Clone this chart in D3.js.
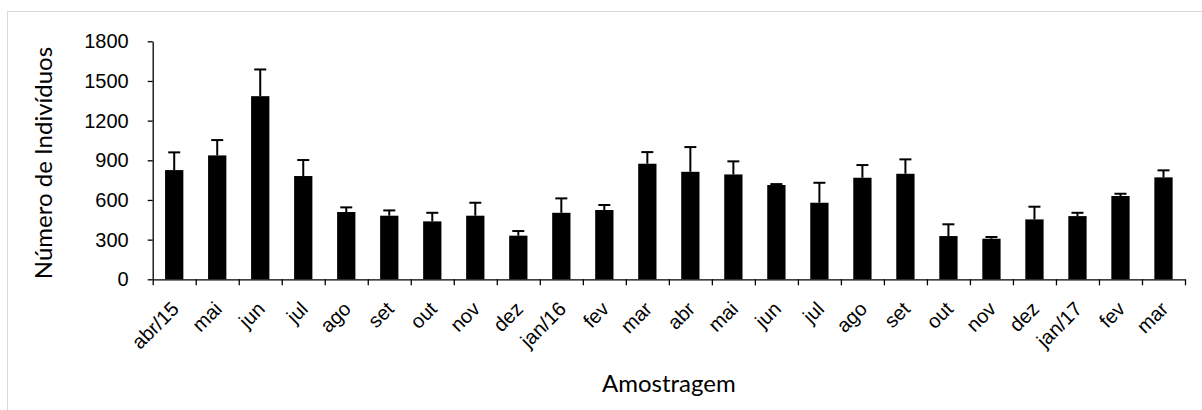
<!DOCTYPE html>
<meta charset="utf-8">
<style>
  body { margin: 0; background: #fff; }
  svg { display: block; font-family: Lato, "Open Sans", sans-serif; }
  .axis path, .axis line { stroke: #000; stroke-width: 1.3px; }
  .axis text { fill: #000; }
</style>
<body></body>
<script src="https://d3js.org/d3.v7.min.js"></script>
<script>

// sampling months (abr/15 .. mar/17)
var months = ["abr/15","mai","jun","jul","ago","set","out","nov","dez","jan/16","fev","mar",
              "abr","mai","jun","jul","ago","set","out","nov","dez","jan/17","fev","mar"];
// mean number of individuals
var means = [826, 937, 1385, 781, 509, 481, 438, 481, 330, 503, 524, 874,
             813, 793, 713, 579, 768, 798, 327, 307, 453, 478, 630, 771];
// upper error (standard deviation)
var errors = [134, 116, 202, 121, 35, 40, 65, 98, 35, 109, 38, 88,
              187, 99, 7, 151, 96, 109, 89, 13, 96, 25, 17, 53];
var yTicks = [0, 300, 600, 900, 1200, 1500, 1800];

var W = 1202, H = 410;
var plot = {left: 152.7, right: 1185, top: 41.3, bottom: 279.3};

var svg = d3.select("body").append("svg")
    .attr("width", W)
    .attr("height", H);

// chart area border (cropped at right/bottom like the original)
svg.append("rect")
    .attr("x", 7.5).attr("y", 11.5)
    .attr("width", W).attr("height", H)
    .attr("fill", "none")
    .attr("stroke", "#d9d9d9")
    .attr("stroke-width", 1);

var idx = d3.range(months.length);

var x = d3.scaleBand()
    .domain(idx)
    .range([plot.left, plot.right])
    .paddingInner(0.575)
    .paddingOuter(0.2875);

var xEdge = d3.scaleLinear()
    .domain([0, months.length])
    .range([plot.left, plot.right]);

var y = d3.scaleLinear()
    .domain([0, 1800])
    .range([plot.bottom, plot.top]);

// bars
svg.selectAll(".bar")
    .data(idx)
    .enter().append("rect")
    .attr("class", "bar")
    .attr("x", function(i) { return x(i); })
    .attr("y", function(i) { return y(means[i]); })
    .attr("width", x.bandwidth())
    .attr("height", function(i) { return plot.bottom - y(means[i]); })
    .attr("fill", "#000");

// error bars (upper only)
var cap = 6;
var eb = svg.selectAll(".err")
    .data(idx)
    .enter().append("g")
    .attr("class", "err")
    .attr("stroke", "#000")
    .attr("stroke-width", 2);

eb.append("line")
    .attr("x1", function(i) { return x(i) + x.bandwidth() / 2; })
    .attr("x2", function(i) { return x(i) + x.bandwidth() / 2; })
    .attr("y1", function(i) { return y(means[i]); })
    .attr("y2", function(i) { return y(means[i] + errors[i]); });

eb.append("line")
    .attr("x1", function(i) { return x(i) + x.bandwidth() / 2 - cap; })
    .attr("x2", function(i) { return x(i) + x.bandwidth() / 2 + cap; })
    .attr("y1", function(i) { return y(means[i] + errors[i]); })
    .attr("y2", function(i) { return y(means[i] + errors[i]); });

// y axis
var yaxis = d3.axisLeft(y)
    .tickValues(yTicks)
    .tickSize(5)
    .tickPadding(19)
    .tickFormat(d3.format("d"))
    .tickSizeOuter(0);

svg.append("g")
    .attr("class", "axis")
    .attr("transform", "translate(" + plot.left + ",0)")
    .call(yaxis)
    .selectAll("text")
    .style("font-size", "20px");

// x axis: tick marks at category edges
var xaxis = d3.axisBottom(xEdge)
    .ticks(months.length)
    .tickFormat("")
    .tickSize(6)
    .tickSizeOuter(0);

svg.append("g")
    .attr("class", "axis")
    .attr("transform", "translate(0," + plot.bottom + ")")
    .call(xaxis);

// x labels, rotated
var xlab = d3.axisBottom(x)
    .tickFormat(function(i) { return months[i]; })
    .tickSize(0);

var gl = svg.append("g")
    .attr("class", "axis")
    .attr("transform", "translate(0," + plot.bottom + ")")
    .call(xlab);
gl.select(".domain").remove();
gl.selectAll("text")
    .style("font-size", "20px")
    .attr("text-anchor", "end")
    .attr("dy", "0.35em")
    .attr("y", 0)
    .attr("transform", "translate(1,26) rotate(-45)");

// axis titles
svg.append("text")
    .attr("x", (plot.left + plot.right) / 2)
    .attr("y", 392)
    .attr("text-anchor", "middle")
    .style("font-size", "24px")
    .text("Amostragem");

svg.append("text")
    .attr("transform", "translate(52,163) rotate(-90)")
    .attr("text-anchor", "middle")
    .style("font-size", "24px")
    .text("Número de Indivíduos");

</script>
